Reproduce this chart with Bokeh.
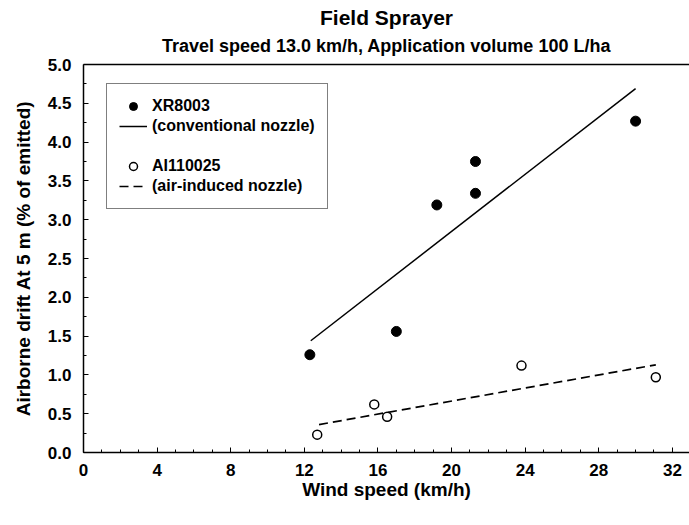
from bokeh.plotting import figure
from bokeh.models import (Range1d, FixedTicker, LinearAxis, Title, Legend, LegendItem,
                          NumeralTickFormatter)
from bokeh.embed import file_html
from bokeh.resources import INLINE

FONT = "Liberation Sans"

# XR8003 (conventional nozzle) measurements
xr_wind = [12.3, 17.0, 19.2, 21.3, 21.3, 30.0]
xr_drift = [1.26, 1.56, 3.19, 3.34, 3.75, 4.27]
# XR8003 regression line (end points)
xr_fit_wind = [12.35, 30.0]
xr_fit_drift = [1.44, 4.69]

# AI110025 (air-induced nozzle) measurements
ai_wind = [12.7, 15.8, 16.5, 23.8, 31.1]
ai_drift = [0.23, 0.62, 0.46, 1.12, 0.97]
# AI110025 regression line (end points)
ai_fit_wind = [12.8, 31.1]
ai_fit_drift = [0.36, 1.13]

x_ticks = [0, 4, 8, 12, 16, 20, 24, 28, 32]
x_minor = list(range(0, 33))
y_ticks = [0.0, 0.5, 1.0, 1.5, 2.0, 2.5, 3.0, 3.5, 4.0, 4.5, 5.0]
y_minor = [0.25, 0.75, 1.25, 1.75, 2.25, 2.75, 3.25, 3.75, 4.25, 4.75]

p = figure(frame_width=606, frame_height=388, output_backend="svg", toolbar_location=None,
           x_range=Range1d(0, 32.93), y_range=Range1d(0, 5), title=None,
           min_border_left=83, min_border_right=0, min_border_top=64, min_border_bottom=73,
           x_axis_label="Wind speed (km/h)",
           y_axis_label="Airborne drift At 5 m (% of emitted)")
p.outline_line_color = None
p.grid.visible = False
p.background_fill_color = "white"
p.border_fill_color = "white"

for ax in (p.xaxis[0], p.yaxis[0]):
    ax.axis_line_width = 1.5
    ax.axis_line_color = "black"
    ax.major_tick_in = 5
    ax.major_tick_out = 0
    ax.minor_tick_in = 3
    ax.minor_tick_out = 0
    ax.major_tick_line_color = "black"
    ax.minor_tick_line_color = "black"
    ax.major_label_text_font = FONT
    ax.major_label_text_font_style = "bold"
    ax.major_label_text_font_size = "17px"
    ax.major_label_text_color = "black"
    ax.axis_label_text_font = FONT
    ax.axis_label_text_font_style = "bold"
    ax.axis_label_text_font_size = "19px"
    ax.axis_label_text_color = "black"

p.xaxis[0].ticker = FixedTicker(ticks=x_ticks, minor_ticks=x_minor)
p.yaxis[0].ticker = FixedTicker(ticks=y_ticks, minor_ticks=y_minor)
p.yaxis[0].formatter = NumeralTickFormatter(format="0.0")
p.xaxis[0].major_label_standoff = 11
p.yaxis[0].major_label_standoff = 12
p.xaxis[0].axis_label_standoff = 0
p.yaxis[0].axis_label_standoff = 11

# top frame line only (no ticks, no labels)
top_axis = LinearAxis(ticker=FixedTicker(ticks=[]), major_label_text_font_size="0px",
                      major_tick_in=0, major_tick_out=0, minor_tick_in=0, minor_tick_out=0,
                      axis_line_width=1.5, axis_line_color="black", major_label_standoff=0)
p.add_layout(top_axis, "above")

sub = Title(text="Travel speed 13.0 km/h, Application volume 100 L/ha", align="center",
            vertical_align="top", text_font=FONT, text_font_style="bold",
            text_font_size="18px", text_color="black", standoff=14, offset=-12)
p.add_layout(sub, "above")
main = Title(text="Field Sprayer", align="center",
             text_font=FONT, text_font_style="bold", text_font_size="21px",
             text_color="black", standoff=0, offset=-4)
p.add_layout(main, "above")

r_xr = p.scatter(xr_wind, xr_drift, marker="circle", size=10, fill_color="black",
                 line_color="black")
l_xr = p.line(xr_fit_wind, xr_fit_drift, line_color="black", line_width=1.5)
l_ai = p.line(ai_fit_wind, ai_fit_drift, line_color="black", line_width=1.7,
              line_dash="9 5")
r_ai = p.scatter(ai_wind, ai_drift, marker="circle", size=9, fill_color="white",
                 line_color="black", line_width=1.5)

legend = Legend(items=[
    LegendItem(label="XR8003", renderers=[r_xr]),
    LegendItem(label="(conventional nozzle)", renderers=[l_xr]),
    LegendItem(label=" ", renderers=[]),
    LegendItem(label="AI110025", renderers=[r_ai]),
    LegendItem(label="(air-induced nozzle)", renderers=[l_ai]),
], location=(23, 243), margin=0, padding=12, spacing=0, glyph_width=28, glyph_height=20,
    label_height=20, label_standoff=5, label_text_font=FONT, label_text_font_style="bold",
    label_text_font_size="16px", label_text_color="black",
    border_line_color="black", border_line_width=1.5,
    background_fill_color="white", background_fill_alpha=1.0)
p.add_layout(legend)

open("out.html", "w").write(file_html(p, INLINE))
